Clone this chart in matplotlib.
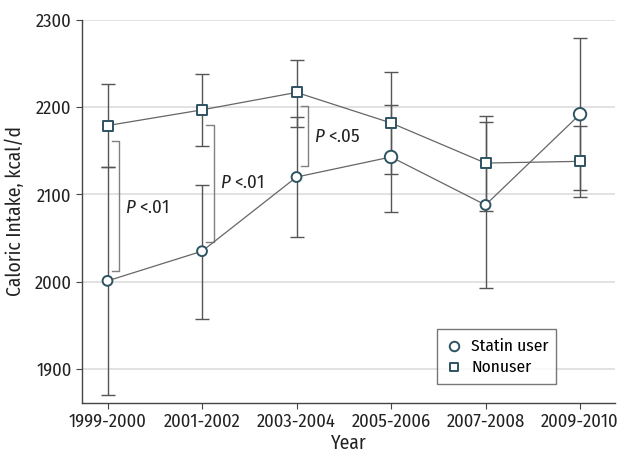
import matplotlib
matplotlib.use("Agg")
import matplotlib.pyplot as plt
from matplotlib import font_manager
import numpy as np

names = {f.name for f in font_manager.fontManager.ttflist}
fam = "Fira Sans Condensed" if "Fira Sans Condensed" in names else "DejaVu Sans"
plt.rcParams['font.family'] = [fam, 'DejaVu Sans']
plt.rcParams['mathtext.fontset'] = 'custom'
plt.rcParams['mathtext.rm'] = fam
plt.rcParams['mathtext.it'] = fam + ':italic'

years = ["1999-2000", "2001-2002", "2003-2004", "2005-2006", "2007-2008", "2009-2010"]
statin = [2001, 2035, 2120, 2143, 2088, 2192]
statin_lo = [1870, 1957, 2051, 2080, 1993, 2105]
statin_hi = [2132, 2111, 2189, 2202, 2183, 2279]
nonuser = [2179, 2197, 2217, 2182, 2136, 2138]
nonuser_lo = [2131, 2156, 2177, 2123, 2081, 2097]
nonuser_hi = [2227, 2238, 2254, 2240, 2190, 2178]

# significance brackets
br_idx = [0, 1, 2]
br_top = [2161, 2180, 2201]
br_bot = [2012, 2046, 2133]
br_text_y = [2085, 2113, 2166]
br_labels = ["<.01", "<.01", "<.05"]

fig = plt.figure(figsize=(6.18, 4.53), dpi=100)
ax = fig.add_axes([82/618, 1-403/453, (615-82)/618, (403-20)/453])

x = np.arange(len(years))
ecol = "#555555"
mcol = "#2e5362"
ax.errorbar(x, statin, yerr=[np.array(statin) - np.array(statin_lo), np.array(statin_hi) - np.array(statin)],
            fmt='none', ecolor=ecol, elinewidth=1.0, capsize=5, capthick=1.0, zorder=2)
ax.errorbar(x, nonuser, yerr=[np.array(nonuser) - np.array(nonuser_lo), np.array(nonuser_hi) - np.array(nonuser)],
            fmt='none', ecolor=ecol, elinewidth=1.0, capsize=5, capthick=1.0, zorder=2)
ax.plot(x, statin, color="#666666", lw=0.9, zorder=3)
ax.plot(x, nonuser, color="#666666", lw=0.9, zorder=3)
sizes = [50, 50, 50, 80, 50, 80]
ax.scatter(x, statin, s=sizes, marker='o', facecolor='white', edgecolor=mcol, linewidth=1.4, zorder=4, label="Statin user")
ax.scatter(x, nonuser, s=50, marker='s', facecolor='white', edgecolor=mcol, linewidth=1.4, zorder=4, label="Nonuser")

for i, t, b, ty, lab in zip(br_idx, br_top, br_bot, br_text_y, br_labels):
    x0 = i + 0.045
    x1 = i + 0.125
    ax.plot([x0, x1, x1, x0], [t, t, b, b], color="#808080", lw=1.0, zorder=1)
    ax.text(i + 0.185, ty, r"$\it{P}$ " + lab, fontsize=13.5, va='center', ha='left', color="#222222")

ax.set_xlim(-0.27, 5.37)
ax.set_ylim(1861, 2300)
ax.set_yticks([1900, 2000, 2100, 2200, 2300])
ax.set_xticks(x)
ax.set_xticklabels(years)
ax.yaxis.grid(True, color="#dddddd", lw=1.2)
ax.set_axisbelow(True)
for s in ["top", "right"]:
    ax.spines[s].set_visible(False)
for s in ["left", "bottom"]:
    ax.spines[s].set_color("#444444")
    ax.spines[s].set_linewidth(1.0)
ax.tick_params(axis='both', labelsize=13.3, colors="#222222", length=4, width=0.8)
ax.tick_params(axis='both', color="#444444")
ax.tick_params(axis='x', pad=3)
ax.set_xlabel("Year", fontsize=14, color="#222222", va='baseline')
ax.xaxis.set_label_coords(0.5, -(449 - 403) / 383)
ax.set_ylabel("Caloric Intake, kcal/d", fontsize=14, color="#222222", labelpad=7)

leg = ax.legend(loc='lower left', bbox_to_anchor=((436.7-82)/533, (403-383.7)/383, (556.3-436.7)/533, (383.7-329)/383),
                mode='expand', fontsize=12.5, frameon=True, fancybox=False, edgecolor="#555555",
                handlelength=1.0, handletextpad=0.5, borderpad=0.5, labelspacing=0.3, borderaxespad=0,
                markerscale=0.85)
leg.get_frame().set_linewidth(1.0)

fig.savefig("out.png", dpi=100)
